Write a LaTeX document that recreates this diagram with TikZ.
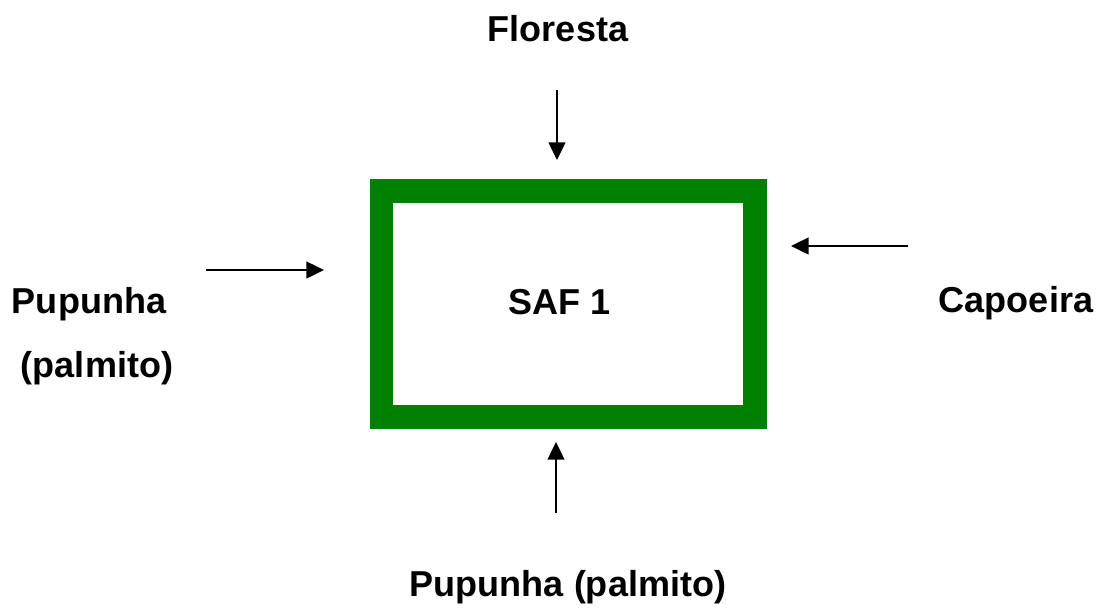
\documentclass[tikz,border=0pt]{standalone}
\usepackage{fontspec}
\setmainfont{Liberation Sans}
\usetikzlibrary{arrows.meta}
\definecolor{safgreen}{RGB}{0,128,0}
\tikzset{
  lbl/.style={font=\fontsize{20.5}{24}\selectfont\bfseries,inner sep=0pt,anchor=base},
  flow/.style={line width=1.2pt,-{Triangle[length=10pt,width=9.5pt]}}
}
\begin{document}
\begin{tikzpicture}[x=0.02cm,y=-0.02cm]
\useasboundingbox (0,0) rectangle (1100,610);

% the system box
\draw[safgreen,line width=0.48cm] (381.5,191) rectangle (755,417);
\node[lbl] (saf) at (560,314) {SAF 1};

% inputs around the box
\node[lbl] (floresta) at (558,41) {Floresta};
\node[lbl] (capoeira) at (1016,312) {Capoeira};
\node[lbl] (pupleft) at (89,313) {Pupunha};
\node[lbl] (palmleft) at (97,377) {(palmito)};
\node[lbl] (pupbottom) at (568,596) {Pupunha (palmito)};

% ends of the arrows
\coordinate (top1) at (557,90);    \coordinate (top2) at (557,160);
\coordinate (left1) at (206,270);  \coordinate (left2) at (324,270);
\coordinate (right1) at (908,246); \coordinate (right2) at (791,246);
\coordinate (bot1) at (556,513);   \coordinate (bot2) at (556,442);

\foreach \a in {top,left,right,bot}
  \draw[flow] (\a1) -- (\a2);
\end{tikzpicture}
\end{document}
